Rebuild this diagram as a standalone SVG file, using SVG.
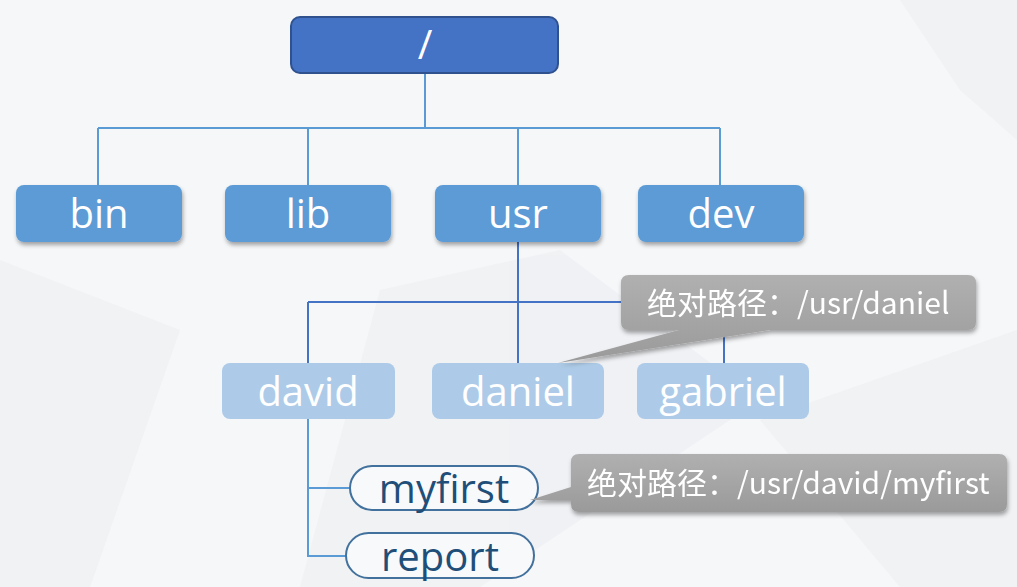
<svg xmlns="http://www.w3.org/2000/svg" width="1017" height="587" viewBox="0 0 1017 587">
<defs>
<filter id="sh" x="-10%" y="-10%" width="120%" height="140%">
<feDropShadow dx="1" dy="3" stdDeviation="2" flood-color="#000" flood-opacity="0.35"/>
</filter>
<linearGradient id="gg" x1="0" y1="0" x2="0" y2="1">
<stop offset="0" stop-color="#B0B0B0"/>
<stop offset="1" stop-color="#9A9A9A"/>
</linearGradient>
<style>
.t{font-family:"Open Sans","Noto Sans","Noto Sans CJK SC",sans-serif;text-anchor:middle;font-size:40px}
.w{fill:#fff}
.l1{fill:#5B9BD5}
.l2{fill:#ADCBE8}
.pill{fill:#F8F9FB;stroke:#41719C;stroke-width:2}
.c1{fill:none;stroke:#5B9BD5;stroke-width:2}
.c2{fill:none;stroke:#4472C4;stroke-width:2}
.call{fill:url(#gg)}
.ct{font-family:"Noto Sans CJK SC","Open Sans",sans-serif;fill:#fff;font-size:30px}
</style>
</defs>
<rect width="1017" height="587" fill="#F6F7F9"/>
<g fill="#EEEFF2" opacity="0.7">
<polygon points="0,260 180,330 90,587 0,587"/>
<polygon points="380,290 560,250 760,400 480,587 300,587"/>
<polygon points="760,420 1017,330 1017,587 900,587"/>
<polygon points="900,0 1017,0 1017,140 960,90"/>
</g>
<g id="connectors">
<path class="c1" d="M425,73 V128 M98,128 H720 M98,128 V185 M308,128 V185 M518,128 V185 M720,128 V185"/>
<path class="c2" d="M518,242 V302 M308,302 H724 M308,302 V363 M518,302 V363 M724,302 V363"/>
<path class="c1" d="M308,419 V556 H346 M308,488 H350"/>
</g>
<g id="root">
<rect x="291" y="17" width="267" height="56" rx="9" fill="#4472C4" stroke="#2F528F" stroke-width="2"/>
<text class="t w" x="425" y="59">/</text>
</g>
<g id="bin">
<rect class="l1" x="16" y="185" width="166" height="57" rx="8" filter="url(#sh)"/>
<text class="t w" x="99" y="228">bin</text>
</g>
<g id="lib">
<rect class="l1" x="225" y="185" width="166" height="57" rx="8" filter="url(#sh)"/>
<text class="t w" x="308" y="228">lib</text>
</g>
<g id="usr">
<rect class="l1" x="435" y="185" width="166" height="57" rx="8" filter="url(#sh)"/>
<text class="t w" x="518" y="228">usr</text>
</g>
<g id="dev">
<rect class="l1" x="638" y="185" width="166" height="57" rx="8" filter="url(#sh)"/>
<text class="t w" x="721" y="228">dev</text>
</g>
<g id="david">
<rect class="l2" x="222" y="363" width="173" height="56" rx="8"/>
<text class="t w" x="308" y="406">david</text>
</g>
<g id="daniel">
<rect class="l2" x="432" y="363" width="172" height="56" rx="8"/>
<text class="t w" x="518" y="406">daniel</text>
</g>
<g id="gabriel">
<rect class="l2" x="637" y="363" width="172" height="56" rx="8"/>
<text class="t w" x="723" y="406">gabriel</text>
</g>
<g id="myfirst">
<rect class="pill" x="350" y="466" width="188" height="44" rx="22"/>
<text class="t" x="444" y="503" fill="#1F4E79">myfirst</text>
</g>
<g id="report">
<rect class="pill" x="346" y="533" width="188" height="45" rx="22.5"/>
<text class="t" x="440" y="571" fill="#1F4E79">report</text>
</g>
<g id="callout-daniel" filter="url(#sh)">
<path class="call" d="M629,275 H968 Q976,275 976,283 V322 Q976,330 968,330 H770 L558,363 L679,330 H629 Q621,330 621,322 V283 Q621,275 629,275 Z"/>
<text class="ct" x="647" y="314">绝对路径：/usr/daniel</text>
</g>
<g id="callout-myfirst" filter="url(#sh)">
<path class="call" d="M579,454 H999 Q1007,454 1007,462 V504 Q1007,512 999,512 H579 Q571,512 571,504 V500 L530,500 L571,487 V462 Q571,454 579,454 Z"/>
<text class="ct" x="587" y="494">绝对路径：/usr/david/myfirst</text>
</g>
</svg>
